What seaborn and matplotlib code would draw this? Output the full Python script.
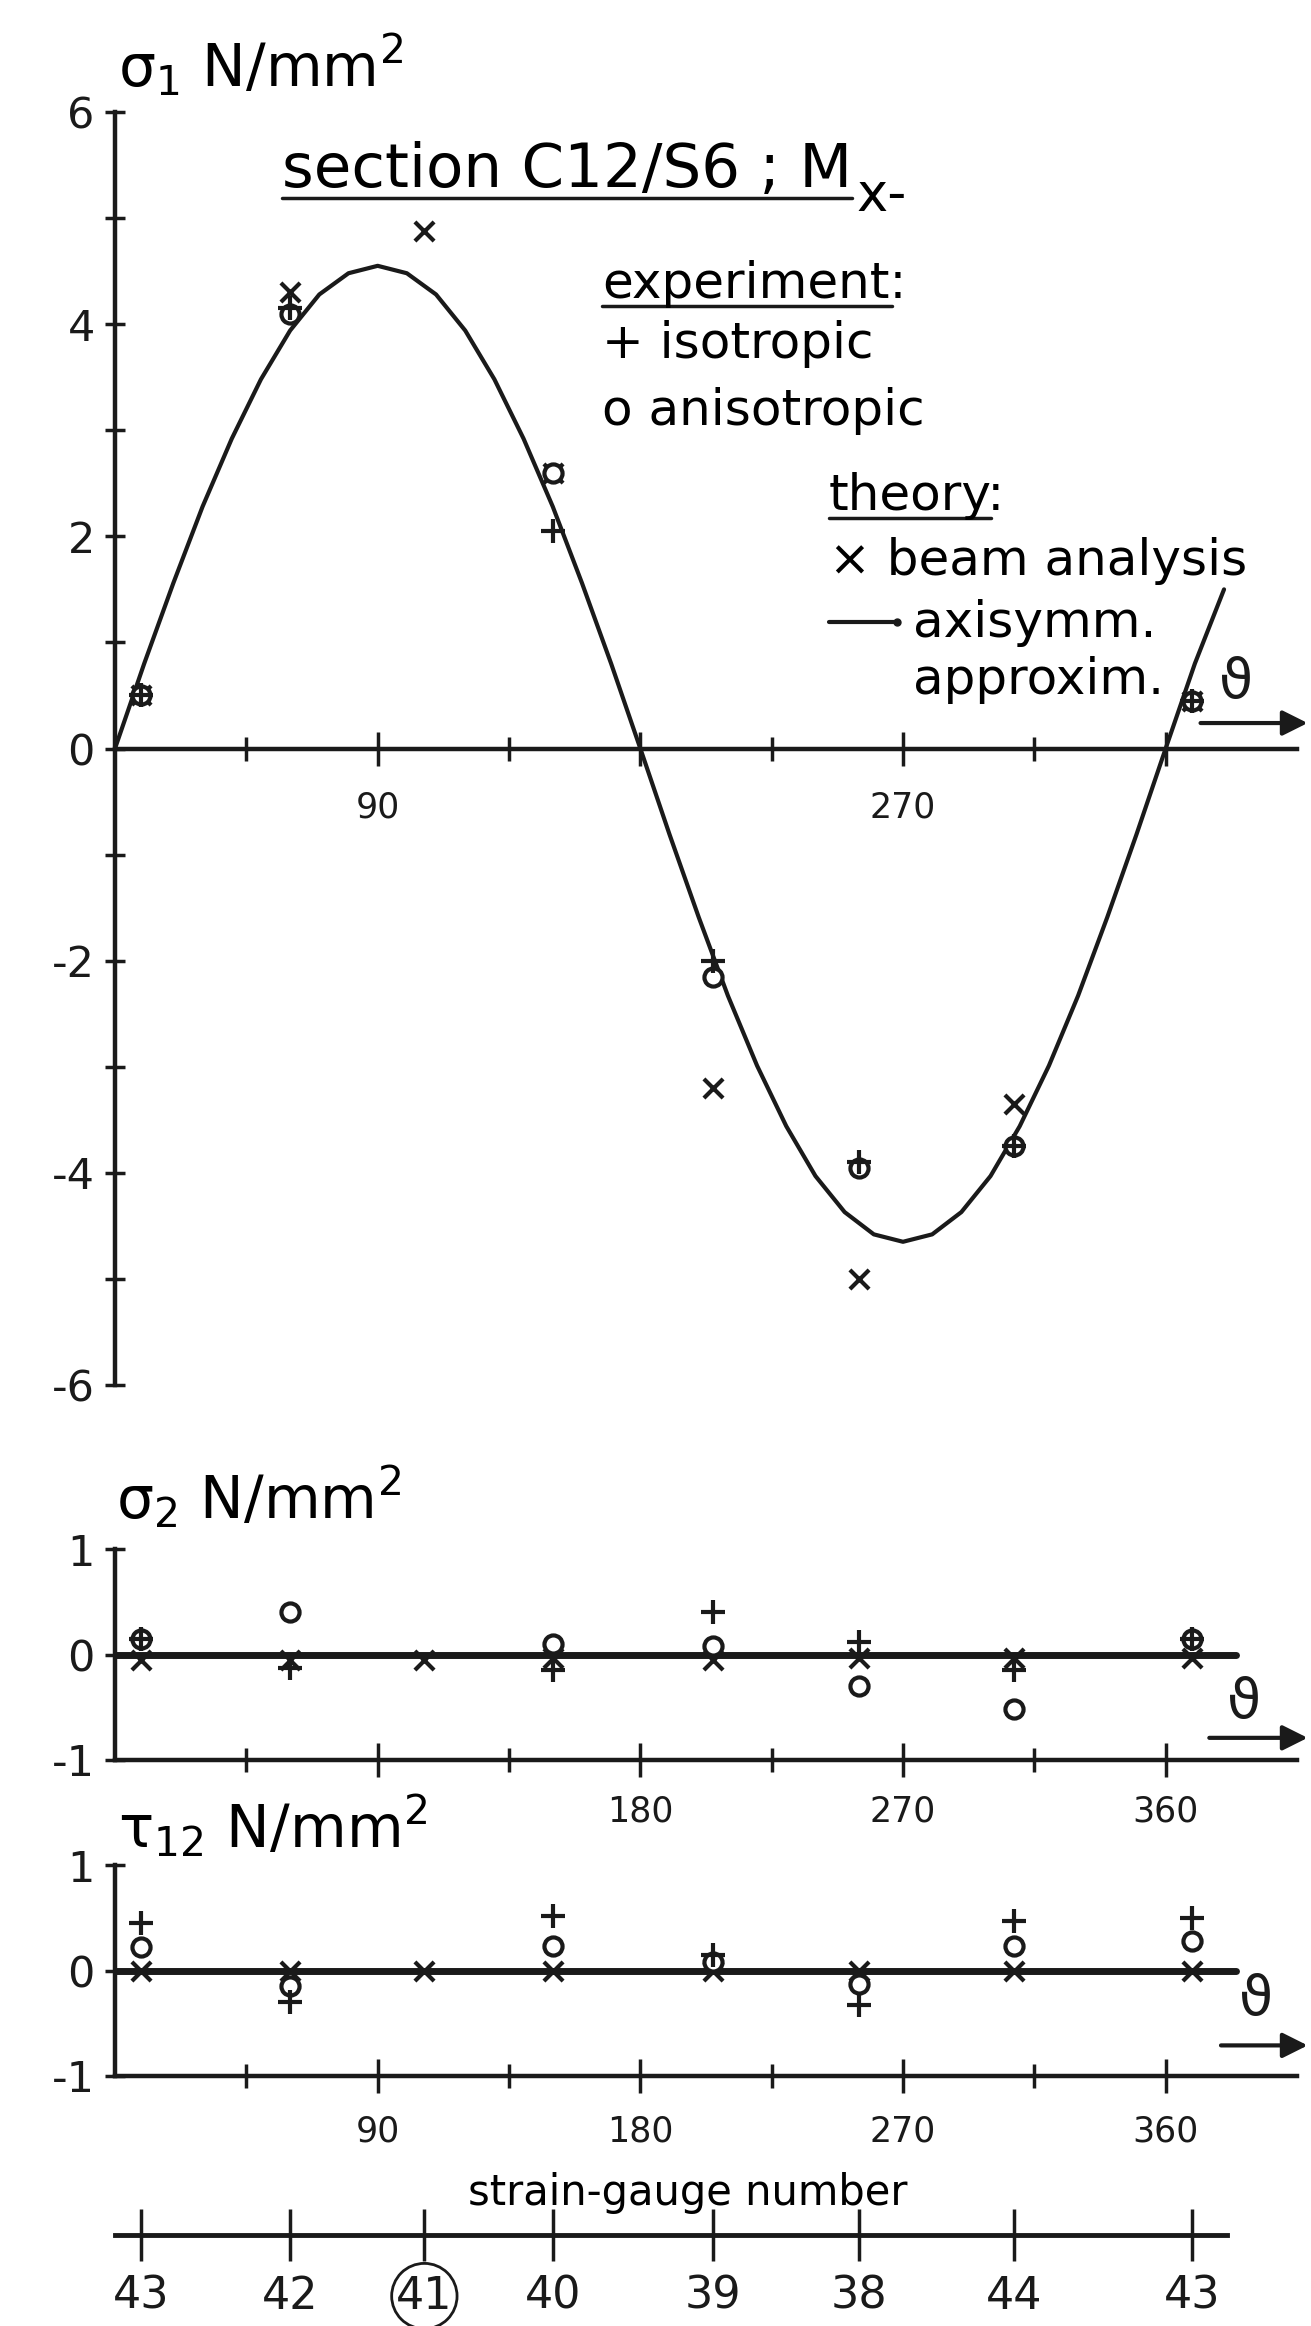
import numpy as np
import seaborn as sns
import matplotlib.pyplot as plt
from matplotlib.lines import Line2D

# posiciones de las galgas (grados) y numero de galga
gauge_deg = [9, 60, 106, 150, 205, 255, 308, 369]
gauge_no = ["43", "42", "41", "40", "39", "38", "44", "43"]

# sigma_1 (N/mm2) - experimento y teoria de viga
s1_iso = [0.5, 4.15, np.nan, 2.05, -2.0, -3.9, -3.75, 0.45]
s1_aniso = [0.5, 4.1, np.nan, 2.6, -2.15, -3.95, -3.75, 0.45]
s1_beam = [0.5, 4.3, 4.88, 2.6, -3.2, -5.0, -3.35, 0.45]

# curva axisimetrica aproximada
curve_deg = [0, 10, 20, 30, 40, 50, 60, 70, 80, 90, 100, 110, 120, 130,
             140, 150, 160, 170, 180, 190, 200, 210, 220, 230, 240, 250,
             260, 270, 280, 290, 300, 310, 320, 330, 340, 350, 360, 370, 380]
curve_s1 = [0.0, 0.8, 1.56, 2.28, 2.92, 3.48, 3.94, 4.28, 4.48, 4.55, 4.48,
            4.28, 3.94, 3.48, 2.92, 2.28, 1.56, 0.8, 0.0, -0.81, -1.59,
            -2.33, -2.99, -3.56, -4.03, -4.37, -4.58, -4.65, -4.58, -4.37,
            -4.03, -3.56, -2.99, -2.33, -1.59, -0.81, 0.0, 0.8, 1.5]

# sigma_2 (N/mm2)
s2_iso = [0.15, -0.13, np.nan, -0.15, 0.4, 0.12, -0.15, 0.15]
s2_aniso = [0.15, 0.4, np.nan, 0.1, 0.08, -0.3, -0.52, 0.15]
s2_beam = [-0.05, -0.05, -0.05, -0.03, -0.05, -0.03, -0.03, -0.03]

# tau_12 (N/mm2)
t12_iso = [0.45, -0.3, np.nan, 0.52, 0.15, -0.33, 0.47, 0.5]
t12_aniso = [0.22, -0.15, np.nan, 0.23, 0.08, -0.13, 0.23, 0.28]
t12_beam = [0.0, 0.0, 0.0, 0.0, 0.0, 0.0, 0.0, 0.0]

# teoria axisimetrica para sigma_2 y tau_12
zero_deg = [0, 384]
zero_val = [0, 0]

sns.set_theme(style="white")
plt.rcParams["font.family"] = ["DejaVu Sans"]
plt.rcParams["axes.unicode_minus"] = False
plt.rcParams["mathtext.default"] = "regular"
plt.rcParams["text.color"] = "black"
plt.rcParams["xtick.labelcolor"] = "black"
plt.rcParams["ytick.labelcolor"] = "black"

W, H = 1311, 2326
fig = plt.figure(figsize=(W / 100, H / 100), dpi=100)


def fx(px):
    return px / W


def fy(py):
    return 1 - py / H


LEFT, WIDTH = fx(115), (1297 - 115) / W


def base_axes(rect, ylim):
    ax = fig.add_axes(rect)
    ax.set_facecolor("none")
    ax.set_xlim(0, 405)
    ax.set_ylim(*ylim)
    for s in ["top", "right"]:
        ax.spines[s].set_visible(False)
    for s in ["left", "bottom"]:
        ax.spines[s].set_color("k")
        ax.spines[s].set_linewidth(3.2)
    ax.set_xlabel("")
    ax.set_ylabel("")
    return ax


def theta_ticks(ax, labels, pad):
    ax.set_xticks([90, 180, 270, 360], labels)
    ax.set_xticks([45, 135, 225, 315], minor=True)
    ax.tick_params(axis="x", which="both", direction="inout", width=2.5,
                   bottom=True, labelsize=25, pad=pad, color="k",
                   labelcolor="k")
    ax.tick_params(axis="x", which="major", length=24)
    ax.tick_params(axis="x", which="minor", length=17)


def markers(ax, iso, aniso, beam):
    sns.scatterplot(x=gauge_deg, y=beam, marker="x", s=190, color="k",
                    linewidth=3, ax=ax, clip_on=False, zorder=4)
    sns.scatterplot(x=gauge_deg, y=aniso, marker="o", s=170, color="white",
                    edgecolor="k", linewidth=3, ax=ax, clip_on=False, zorder=5)
    sns.scatterplot(x=gauge_deg, y=iso, marker="+", s=280, color="k",
                    linewidth=3, ax=ax, clip_on=False, zorder=6)


def theta_arrow(ax, tx, ty, ay, x0):
    ax.text(tx, ty, "\u03d1", size=40, ha="center", va="center",
            clip_on=False, color="k")
    ax.annotate("", xy=(409.6, ay), xytext=(x0, ay), annotation_clip=False,
                arrowprops=dict(arrowstyle="-|>", lw=3, color="k",
                                mutation_scale=38))


# ---- panel sigma_1 ----
ax1 = base_axes([LEFT, fy(1385), WIDTH, (1385 - 112) / H], (-6, 6))
ax1.spines["bottom"].set_position(("data", 0))
sns.lineplot(x=curve_deg, y=curve_s1, color="k", linewidth=3, ax=ax1,
             clip_on=False)
markers(ax1, s1_iso, s1_aniso, s1_beam)
theta_ticks(ax1, ["90", "", "270", ""], pad=18)
ax1.set_yticks([-6, -4, -2, 0, 2, 4, 6], ["-6", "-4", "-2", "0", "2", "4", "6"])
ax1.set_yticks([-5, -3, -1, 1, 3, 5], minor=True)
ax1.tick_params(axis="y", which="both", direction="inout", length=15,
                width=2.5, left=True, labelsize=31, pad=7, color="k",
                labelcolor="k")
theta_arrow(ax1, 384, 0.62, 0.24, 371)

# ---- panel sigma_2 ----
ax2 = base_axes([LEFT, fy(1760), WIDTH, (1760 - 1549) / H], (-1, 1))
sns.lineplot(x=zero_deg, y=zero_val, color="k", linewidth=5, ax=ax2)
markers(ax2, s2_iso, s2_aniso, s2_beam)
theta_ticks(ax2, ["", "180", "270", "360"], pad=13)
ax2.set_yticks([-1, 0, 1], ["-1", "0", "1"])
ax2.tick_params(axis="y", direction="inout", length=15, width=2.5,
                left=True, labelsize=31, pad=7, color="k", labelcolor="k")
theta_arrow(ax2, 387, -0.46, -0.79, 374)

# ---- panel tau_12 ----
ax3 = base_axes([LEFT, fy(2076), WIDTH, (2076 - 1865) / H], (-1, 1))
sns.lineplot(x=zero_deg, y=zero_val, color="k", linewidth=5, ax=ax3)
markers(ax3, t12_iso, t12_aniso, t12_beam)
theta_ticks(ax3, ["90", "180", "270", "360"], pad=16)
ax3.set_yticks([-1, 0, 1], ["-1", "0", "1"])
ax3.tick_params(axis="y", direction="inout", length=15, width=2.5,
                left=True, labelsize=31, pad=7, color="k", labelcolor="k")
theta_arrow(ax3, 391, -0.28, -0.71, 378)

# ---- eje de numeros de galga ----
ax4 = fig.add_axes([LEFT, fy(2235), WIDTH, 0.03])
ax4.set_facecolor("none")
ax4.set_xlim(0, 405)
ax4.set_ylim(0, 1)
for s in ["top", "right", "left"]:
    ax4.spines[s].set_visible(False)
ax4.spines["bottom"].set_color("k")
ax4.spines["bottom"].set_linewidth(3.5)
ax4.spines["bottom"].set_bounds(0, 381)
ax4.set_yticks([])
ax4.set_xticks(gauge_deg, gauge_no)
ax4.tick_params(axis="x", direction="inout", length=37, width=2.5,
                bottom=True, labelsize=32, pad=10, color="k", labelcolor="k")
ax4.get_xticklabels()[2].set_bbox(dict(boxstyle="circle,pad=0.1",
                                       fc="none", ec="k", lw=2))

# ---- textos ----
fig.text(fx(118), fy(86), r"$\sigma_1$ N/mm$^2$", size=42, va="baseline")
fig.text(fx(116), fy(1518), r"$\sigma_2$ N/mm$^2$", size=42, va="baseline")
fig.text(fx(118), fy(1847), r"$\tau_{12}$ N/mm$^2$", size=42, va="baseline")
fig.text(fx(688), fy(2193), "strain-gauge number", size=30, ha="center",
         va="center")

t_title = fig.text(fx(282), fy(187), "section C12/S6 ; M", size=44,
                   va="baseline")
t_exp = fig.text(fx(602), fy(298), "experiment:", size=36, va="baseline")
fig.text(fx(602), fy(358), "+ isotropic", size=36, va="baseline")
fig.text(fx(602), fy(425), "o anisotropic", size=36, va="baseline")
t_theo = fig.text(fx(829), fy(510), "theory:", size=36, va="baseline")
fig.text(fx(829), fy(575), "\u00d7 beam analysis", size=36, va="baseline")
fig.text(fx(913), fy(637), "axisymm.", size=36, va="baseline")
fig.text(fx(913), fy(694), "approxim.", size=36, va="baseline")
fig.add_artist(Line2D([fx(829), fx(897)], [fy(622), fy(622)], color="k",
                      lw=3, marker="o", markevery=[1], markersize=5))

fig.canvas.draw()
rend = fig.canvas.get_renderer()
bb = t_title.get_window_extent(rend)
fig.text(bb.x1 / W + fx(4), fy(211), "x-", size=38, va="baseline")
for t, ybase, off, trim in [(t_title, 187, 11, 0), (t_exp, 298, 8, 14),
                            (t_theo, 510, 8, 14)]:
    b = t.get_window_extent(rend)
    fig.add_artist(Line2D([b.x0 / W, (b.x1 - trim) / W],
                          [fy(ybase + off), fy(ybase + off)], color="k",
                          lw=2.5))

fig.savefig("out.png", dpi=100)
